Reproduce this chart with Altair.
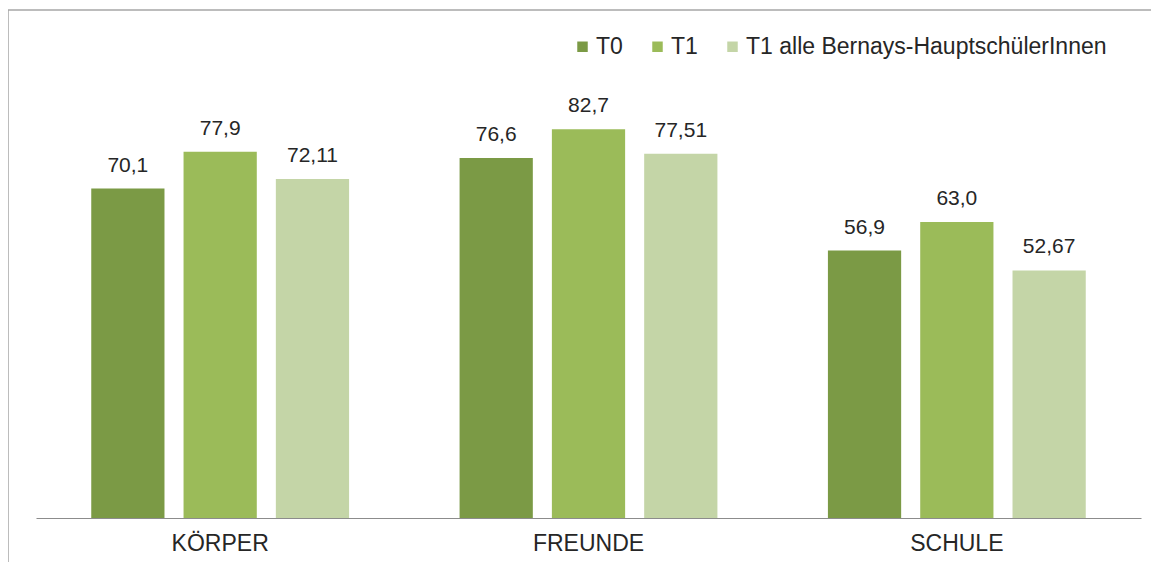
import altair as alt
import pandas as pd

categories = ["KÖRPER", "FREUNDE", "SCHULE"]
series = ["T0", "T1", "T1 alle Bernays-HauptschülerInnen"]
t0 = [70.1, 76.6, 56.9]
t1 = [77.9, 82.7, 63.0]
t1_alle = [72.11, 77.51, 52.67]
decimals = [1, 1, 2]
colors = ["#7B9A45", "#9BBB59", "#C4D5A7"]

rows = []
for s, vals, d in zip(series, [t0, t1, t1_alle], decimals):
    for c, v in zip(categories, vals):
        rows.append({"category": c, "series": s, "value": v,
                     "label": f"{v:.{d}f}".replace(".", ",")})
df = pd.DataFrame(rows)

base = alt.Chart(df).encode(
    x=alt.X("category:N", sort=categories, title=None,
            scale=alt.Scale(paddingInner=0.3, paddingOuter=0.15),
            axis=alt.Axis(labelAngle=0, labelFontSize=23, labelColor="#262626",
                          labelPadding=14, ticks=False, domainColor="#8c8c8c",
                          domainWidth=1.2)),
    xOffset=alt.XOffset("series:N", sort=series,
                        scale=alt.Scale(paddingInner=0.2065, paddingOuter=0)),
    y=alt.Y("value:Q", scale=alt.Scale(domain=[0, 100]), axis=None),
)

bars = base.mark_bar().encode(
    color=alt.Color("series:N", sort=series,
                    scale=alt.Scale(domain=series, range=colors),
                    legend=alt.Legend(title=None, orient="none", direction="horizontal",
                                      legendX=535, legendY=-13, padding=0,
                                      symbolType="square", symbolSize=110,
                                      symbolStrokeWidth=0,
                                      labelFontSize=23, labelColor="#262626",
                                      labelOffset=2, columnPadding=23,
                                      labelLimit=0)),
)

labels = base.mark_text(fontSize=21, color="#262626", baseline="alphabetic",
                        dy=-17).encode(text="label:N")

frame_data = alt.Data(values=[{"a": 1}])
frame_top = alt.Chart(frame_data).mark_rule(
    stroke="#a6a6a6", strokeWidth=1.5
).encode(x=alt.value(-28), x2=alt.value(1200), y=alt.value(-38))
frame_left = alt.Chart(frame_data).mark_rule(
    stroke="#a6a6a6", strokeWidth=1.5
).encode(x=alt.value(-28), y=alt.value(-38), y2=alt.value(600))

chart = alt.layer(frame_top, frame_left, bars, labels).properties(
    width=1105, height=470,
    autosize=alt.AutoSizeParams(type="none"),
    padding={"left": 28, "top": 40, "right": 10, "bottom": 44},
).configure(
    font="Liberation Sans",
).configure_view(stroke=None)

chart.save("out.html", embed_options={"renderer": "svg", "actions": False})
